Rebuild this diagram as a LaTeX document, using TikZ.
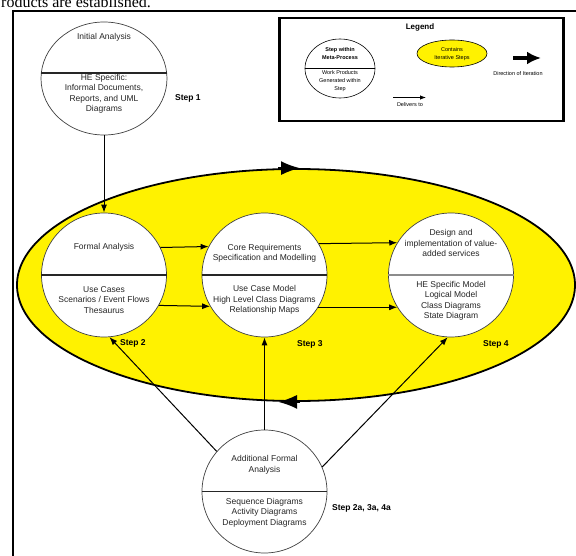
\documentclass[tikz,border=0pt]{standalone}
\usepackage{fontspec}
\setmainfont{Liberation Sans}
\newfontfamily\serifface{Liberation Serif}
\usetikzlibrary{arrows.meta,shapes.geometric}

\tikzset{
  stage/.style={ellipse, draw=black!75, line width=0.7pt, fill=white,
    minimum width=125pt, minimum height=124pt, inner sep=0pt},
  txt/.style={align=center, inner sep=0pt, text=black!85,
    font=\fontsize{8.5}{10.5}\selectfont},
  steplbl/.style={anchor=west, inner sep=0pt,
    font=\bfseries\fontsize{8.5}{10}\selectfont},
  divider/.style={line width=1.7pt, black!85},
  conn/.style={-{Latex[length=8pt,width=6pt]}, line width=1pt},
  iterarrow/.style={-{Latex[length=19pt,width=14pt]}, line width=2pt},
  legtxt/.style={align=center, inner sep=0pt,
    font=\fontsize{5.5}{8}\selectfont},
}

\begin{document}
\begin{tikzpicture}[x=1pt,y=-1pt]
\useasboundingbox (0,0) rectangle (576,556);

% running text above the figure, cut by the page edge
\begin{scope}
  \clip (0,0) rectangle (576,556);
  \node[anchor=base west, inner sep=0pt,
        font=\serifface\fontsize{16}{16}\selectfont] (caption) at (1,8)
        {roducts are established.};
\end{scope}

% frame
\draw[line width=2pt] (576,11) -- (13,11) -- (13,556);

% iteration loop
\node[ellipse, draw, line width=1.8pt, fill=yellow,
      minimum width=558pt, minimum height=232pt, inner sep=0pt]
      (loop) at (296,285) {};
\draw[iterarrow] ([xshift=-18pt]loop.north) -- ([xshift=4pt]loop.north);
\draw[iterarrow] ([xshift=4pt]loop.south) -- ([xshift=-18pt]loop.south);

% stages
\node[stage, minimum width=126pt, minimum height=113pt] (tc) at (104,78.5) {};
\draw[divider] (tc.175) -- (tc.5);
\node[txt] (tcA) at (104,37) {Initial Analysis};
\node[txt] (tcB) at (104,94) {HE Specific:\\Informal Documents,\\Reports, and UML\\Diagrams};
\node[steplbl] (s1) at (175,98) {Step 1};

\node[stage] (fa) at (104,275) {};
\draw[divider] (fa.west) -- (fa.east);
\node[txt] (faA) at (104,247) {Formal Analysis};
\node[txt] (faB) at (104,300) {Use Cases\\Scenarios / Event Flows\\Thesaurus};
\node[steplbl] (s2) at (120,343) {Step 2};

\node[stage] (ca) at (264.5,275) {};
\draw[divider] (ca.west) -- (ca.east);
\node[txt] (caA) at (264.5,253.5) {Core Requirements\\Specification and Modelling};
\node[txt] (caB) at (264.5,300) {Use Case Model\\High Level Class Diagrams\\Relationship Maps};
\node[steplbl] (s3) at (297,344) {Step 3};

\node[stage] (de) at (451,275) {};
\draw[line width=1.3pt, black!45] (de.west) -- (de.east);
\node[txt] (deA) at (451,243) {Design and\\implementation of value-\\added services};
\node[txt] (deB) at (451,301) {HE Specific Model\\Logical Model\\Class Diagrams\\State Diagram};
\node[steplbl] (s4) at (483,344) {Step 4};

\node[stage, minimum height=123pt] (ad) at (264.5,491.5) {};
\draw[divider, line width=1.4pt] (ad.west) -- (ad.east);
\node[txt] (adA) at (264.5,465) {Additional Formal\\Analysis};
\node[txt] (adB) at (264.5,512.5) {Sequence Diagrams\\Activity Diagrams\\Deployment Diagrams};
\node[steplbl] (s5) at (332,508) {Step 2a, 3a, 4a};

% deliveries between stages
\draw[conn] (tc) -- (fa);
\draw[conn] (fa.26.6) -- (ca.153.4);
\draw[conn] (fa.-29.8) -- (ca.-150.2);
\draw[conn] (ca.30.9) -- (de.149.1);
\draw[conn] (ca.-31) -- (de.-149);
\draw[conn] (ad.140) -- (fa.-85);
\draw[conn] (ad) -- (ca);
\draw[conn] (ad.23) -- (de.-93);

% legend
\node[draw, line width=2.5pt, minimum width=284pt, minimum height=103pt,
      inner sep=0pt, anchor=north west] (legend) at (278,17) {};
\node[inner sep=0pt, font=\bfseries\fontsize{8}{9}\selectfont] (legtitle) at (420,27) {Legend};
\node[ellipse, draw, line width=0.6pt, minimum width=70pt, minimum height=59pt,
      inner sep=0pt] (legstep) at (340,68.5) {};
\draw[line width=1.4pt] (legstep.west) -- (legstep.east);
\node[legtxt, font=\bfseries\fontsize{5.5}{8}\selectfont] (legstepA) at (340,54) {Step within\\Meta-Process};
\node[legtxt] (legstepB) at (340,81) {Work Products\\Generated within\\Step};
\node[ellipse, draw, line width=0.6pt, fill=yellow, minimum width=70pt,
      minimum height=27pt, inner sep=0pt] (legloop) at (452,53.5) {};
\node[legtxt] (legloopT) at (452,54) {Contains\\Iterative Steps};
\coordinate (itA) at (513,58);
\coordinate (itB) at (541,58);
\draw[line width=4pt, -{Latex[length=14pt,width=13pt]}] (itA) -- (itB);
\node[legtxt] (legiter) at (518,74) {Direction of Iteration};
\coordinate (dvA) at (393,97.5);
\coordinate (dvB) at (426,97.5);
\draw[-{Latex[length=6pt,width=4.5pt]}, line width=0.9pt] (dvA) -- (dvB);
\node[legtxt] (legdeliv) at (410,104.5) {Delivers to};
\end{tikzpicture}
\end{document}
